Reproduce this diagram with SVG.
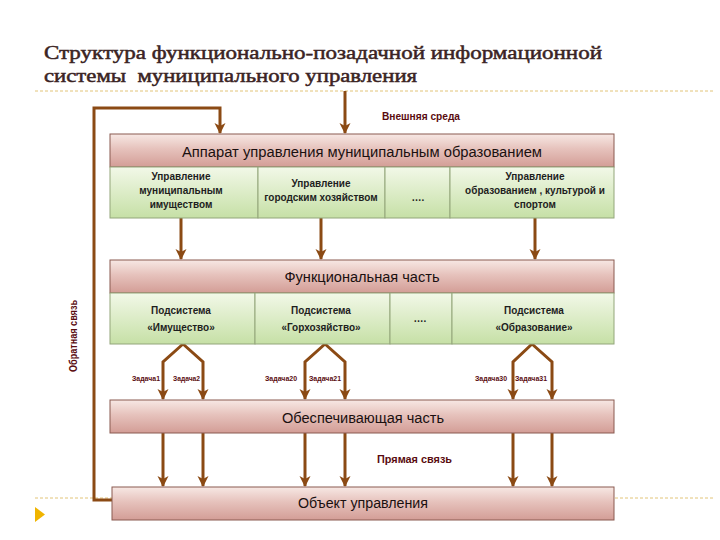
<svg xmlns="http://www.w3.org/2000/svg" width="720" height="540" viewBox="0 0 720 540">
<defs>
<linearGradient id="pink" x1="0" y1="0" x2="0" y2="1">
<stop offset="0" stop-color="#f7e8e4"/>
<stop offset="0.45" stop-color="#e6c2bc"/>
<stop offset="1" stop-color="#d39d96"/>
</linearGradient>
<linearGradient id="green" x1="0" y1="0" x2="0" y2="1">
<stop offset="0" stop-color="#f2f8e8"/>
<stop offset="1" stop-color="#c6e0a6"/>
</linearGradient>
<marker id="ah" markerUnits="userSpaceOnUse" markerWidth="12" markerHeight="12" viewBox="0 0 12 12" refX="10" refY="6" orient="auto">
<path d="M0,0.5 L11,6 L0,11.5 L3,6 Z" fill="#8b4a14"/>
</marker>
</defs>
<style>
.title{font-family:"Liberation Serif","DejaVu Serif",serif;font-size:19px;fill:#3b2424;stroke:#3b2424;stroke-width:0.5}
.pbox{fill:url(#pink);stroke:#8a5a50;stroke-width:1}
.gbox{fill:url(#green);stroke:#93a67b;stroke-width:1}
.big{font-family:"Liberation Sans",sans-serif;font-size:14px;fill:#1a1010;text-anchor:middle}
.cell{font-family:"Liberation Sans",sans-serif;font-weight:bold;font-size:10px;fill:#1e1e1e;text-anchor:middle}
.lbl{font-family:"Liberation Sans",sans-serif;font-weight:bold;font-size:10px;fill:#5a0c10}
.task{font-family:"Liberation Sans",sans-serif;font-weight:bold;font-size:7px;fill:#5a0c10}
.conn{fill:none;stroke:#8b4a14;stroke-width:3}
.arr{fill:none;stroke:#8b4a14;stroke-width:3;marker-end:url(#ah)}
.dash{stroke:#e2c478;stroke-width:1;stroke-dasharray:3 2}
</style>
<rect width="720" height="540" fill="#ffffff"/>
<g id="title">
<text class="title" x="44" y="59" textLength="558" lengthAdjust="spacingAndGlyphs">Структура функционально-позадачной информационной</text>
<text class="title" x="44" y="82" textLength="373" lengthAdjust="spacingAndGlyphs" xml:space="preserve">системы  муниципального управления</text>
</g>
<line class="dash" x1="35" y1="91" x2="715" y2="91"/>
<line class="dash" x1="35" y1="498" x2="715" y2="498"/>
<polygon points="35,507 45,514.5 35,522" fill="#f0b400"/>

<g id="connectors">
<path class="arr" d="M345,91 V133"/>
<path class="arr" d="M112,500 H94 V108 H220 V133"/>
<path class="arr" d="M181,218 V259"/>
<path class="arr" d="M321,218 V259"/>
<path class="arr" d="M535,218 V259"/>
<path class="arr" d="M183,344 L163,362 V399"/>
<path class="arr" d="M183,344 L203,362 V399"/>
<path class="arr" d="M325,344 L305,362 V399"/>
<path class="arr" d="M325,344 L345,362 V399"/>
<path class="arr" d="M532,344 L513,362 V399"/>
<path class="arr" d="M532,344 L552,362 V399"/>
<path class="arr" d="M163,433 V486"/>
<path class="arr" d="M203,433 V486"/>
<path class="arr" d="M305,433 V486"/>
<path class="arr" d="M345,433 V486"/>
<path class="arr" d="M513,433 V486"/>
<path class="arr" d="M552,433 V486"/>
</g>

<g id="ext-env"><text class="lbl" x="382" y="120" textLength="78" lengthAdjust="spacingAndGlyphs">Внешняя среда</text></g>
<g id="feedback-label"><text class="lbl" transform="translate(77,372) rotate(-90)" x="0" y="0" textLength="72" lengthAdjust="spacingAndGlyphs">Обратная связь</text></g>
<g id="direct-label"><text class="lbl" x="377" y="463" textLength="75" lengthAdjust="spacingAndGlyphs">Прямая связь</text></g>

<g id="apparat">
<rect class="pbox" x="110" y="134" width="504" height="33"/>
<text class="big" x="362" y="157" textLength="360" lengthAdjust="spacingAndGlyphs">Аппарат управления муниципальным образованием</text>
</g>
<g id="dept-property">
<rect class="gbox" x="110" y="167" width="148" height="51"/>
<text class="cell" x="181" y="180">Управление</text>
<text class="cell" x="181" y="194">муниципальным</text>
<text class="cell" x="181" y="208">имуществом</text>
</g>
<g id="dept-city">
<rect class="gbox" x="258" y="167" width="127" height="51"/>
<text class="cell" x="321" y="187">Управление</text>
<text class="cell" x="321" y="201">городским хозяйством</text>
</g>
<g id="dept-dots">
<rect class="gbox" x="385" y="167" width="65" height="51"/>
<text class="cell" x="418" y="201">….</text>
</g>
<g id="dept-education">
<rect class="gbox" x="450" y="167" width="164" height="51"/>
<text class="cell" x="535" y="180">Управление</text>
<text class="cell" x="535" y="194">образованием , культурой и</text>
<text class="cell" x="535" y="208">спортом</text>
</g>

<g id="functional">
<rect class="pbox" x="110" y="260" width="504" height="33"/>
<text class="big" x="362" y="282" textLength="155" lengthAdjust="spacingAndGlyphs">Функциональная часть</text>
</g>
<g id="sub-property">
<rect class="gbox" x="110" y="293" width="145" height="51"/>
<text class="cell" x="181" y="314">Подсистема</text>
<text class="cell" x="181" y="331">«Имущество»</text>
</g>
<g id="sub-city">
<rect class="gbox" x="255" y="293" width="135" height="51"/>
<text class="cell" x="321" y="314">Подсистема</text>
<text class="cell" x="321" y="331">«Горхозяйство»</text>
</g>
<g id="sub-dots">
<rect class="gbox" x="390" y="293" width="62" height="51"/>
<text class="cell" x="420" y="322">….</text>
</g>
<g id="sub-education">
<rect class="gbox" x="452" y="293" width="162" height="51"/>
<text class="cell" x="534" y="314">Подсистема</text>
<text class="cell" x="534" y="331">«Образование»</text>
</g>

<g id="tasks">
<text class="task" x="132" y="381" textLength="28" lengthAdjust="spacingAndGlyphs">Задача1</text>
<text class="task" x="173" y="381" textLength="27" lengthAdjust="spacingAndGlyphs">Задача2</text>
<text class="task" x="265" y="381" textLength="32" lengthAdjust="spacingAndGlyphs">Задача20</text>
<text class="task" x="309" y="381" textLength="32" lengthAdjust="spacingAndGlyphs">Задача21</text>
<text class="task" x="475" y="381" textLength="32" lengthAdjust="spacingAndGlyphs">Задача30</text>
<text class="task" x="515" y="381" textLength="32" lengthAdjust="spacingAndGlyphs">Задача31</text>
</g>

<g id="support">
<rect class="pbox" x="110" y="400" width="504" height="33"/>
<text class="big" x="363" y="423" textLength="162" lengthAdjust="spacingAndGlyphs">Обеспечивающая часть</text>
</g>
<g id="object">
<rect class="pbox" x="112" y="487" width="502" height="33"/>
<text class="big" x="363" y="508" textLength="130" lengthAdjust="spacingAndGlyphs">Объект управления</text>
</g>
</svg>
